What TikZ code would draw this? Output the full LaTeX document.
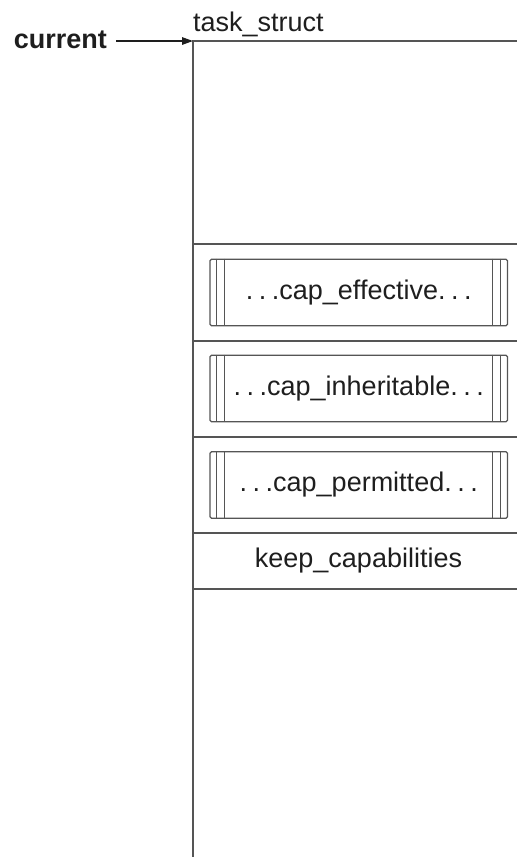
\documentclass[tikz,border=0pt]{standalone}
\usepackage{fontspec}
\setmainfont{Liberation Sans}
\usetikzlibrary{arrows.meta}
\definecolor{ink}{HTML}{1E1E1E}
\definecolor{rule}{HTML}{555555}
\newcommand{\dotsep}{.\kern5.5pt.\kern5.5pt.}
\begin{document}
\begin{tikzpicture}[x=1pt,y=-1pt,
  label text/.style={inner sep=0pt, text=ink, font=\fontsize{27}{32}\selectfont},
  frame/.style={draw=rule, line width=2pt},
  field/.style={inner sep=0pt, minimum width=324pt, minimum height=56pt, label text},
  capbox/.style={draw=rule, line width=1.3pt, rounded corners=1.5pt,
    minimum width=297.5pt, minimum height=66.5pt, inner sep=0pt, label text},
  bar/.style={draw=rule, line width=1.2pt},
  pointer/.style={draw=ink, line width=1.4pt, -{Triangle[length=11pt,width=7.5pt]}}]
\useasboundingbox (0,0) rectangle (517,857);

% labels outside the structure
\node[label text, font=\fontsize{27}{32}\selectfont\bfseries, anchor=base east] (cur) at (107,48) {current};
\node[label text, anchor=base west] (name) at (193,31.5) {task\_struct};
\coordinate (tl) at (193,41);
\coordinate (tr) at (517,41);
\coordinate (bl) at (193,857);

% outline of the structure, open to the right and bottom
\draw[frame] (bl) -- (tl) -- (tr);
\foreach \y in {244,341,437,533,589}
  \draw[frame] (193,\y) -- (517,\y);

% pointer into the structure
\draw[pointer] ([xshift=9pt]cur.east |- tl) -- (tl);

% capability sets
\node[capbox] (eff) at (358.75,292.5) {\dotsep cap\_effective\dotsep};
\node[capbox] (inh) at (358.75,388.5) {\dotsep cap\_inheritable\dotsep};
\node[capbox] (per) at (358.75,485) {\dotsep cap\_permitted\dotsep};

\foreach \b in {eff,inh,per} {
  \draw[bar] ([xshift=7.5pt]\b.north west) -- ([xshift=7.5pt]\b.south west);
  \draw[bar] ([xshift=15pt]\b.north west) -- ([xshift=15pt]\b.south west);
  \draw[bar] ([xshift=-7.5pt]\b.north east) -- ([xshift=-7.5pt]\b.south east);
  \draw[bar] ([xshift=-15.5pt]\b.north east) -- ([xshift=-15.5pt]\b.south east);
}

% flag field
\node[field] (keep) at (358.5,561) {keep\_capabilities};
\end{tikzpicture}
\end{document}
